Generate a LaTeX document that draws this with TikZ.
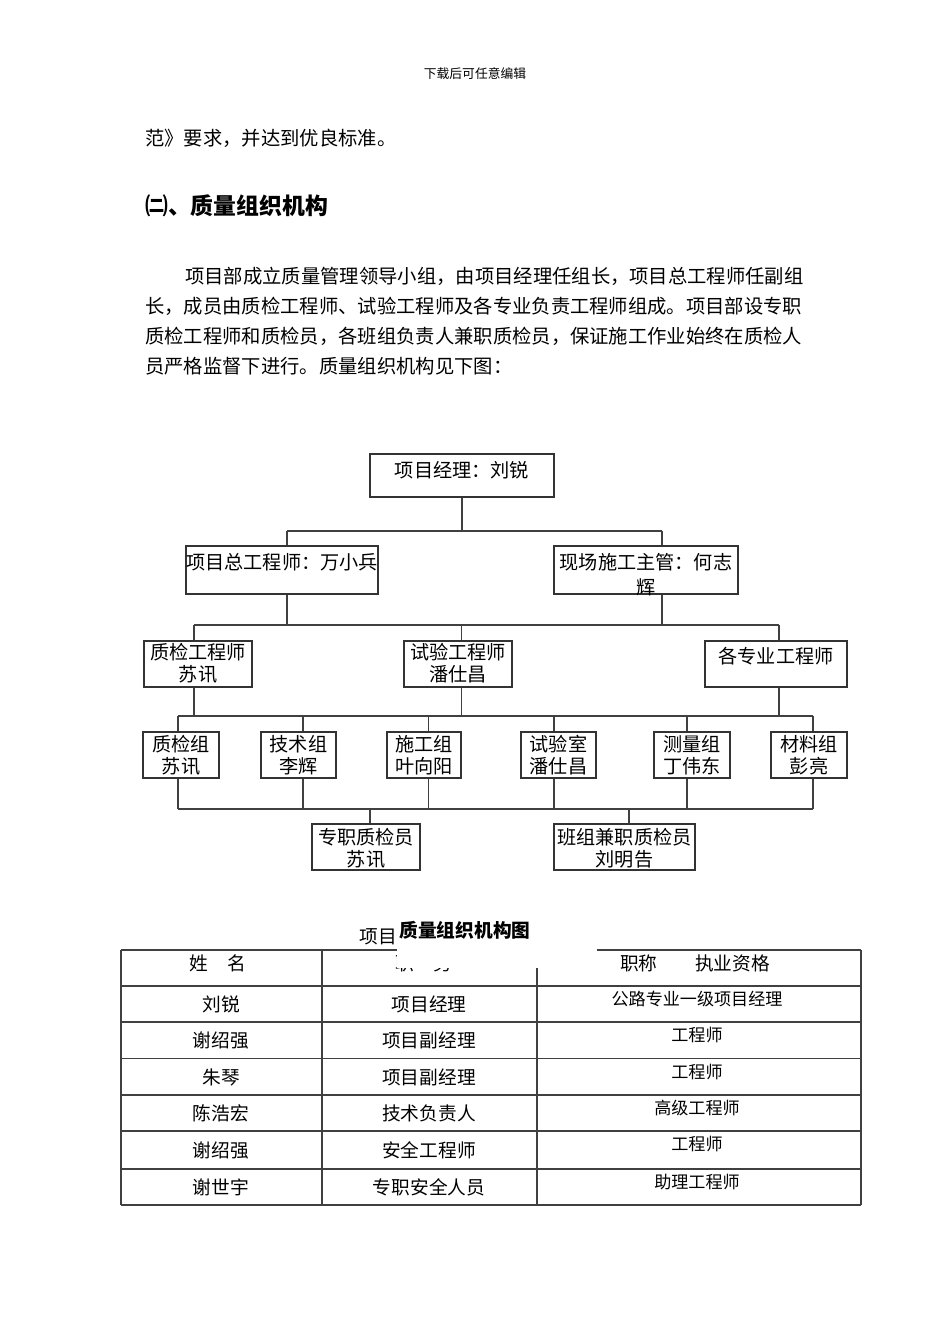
\documentclass[tikz,border=0pt]{standalone}
\usepackage{fontspec}
\setmainfont{Noto Sans CJK SC}
\usetikzlibrary{fit,positioning,backgrounds}

\begin{document}
\begin{tikzpicture}[
  x=0.6263pt, y=-0.6263pt,
  every node/.style={inner sep=0pt},
  orgbox/.style={draw=black!80, fill=white, line width=0.9pt, inner sep=0pt},
  boxtxt/.style={align=center, font=\fontsize{12pt}{13.8pt}\selectfont},
  link/.style={draw=black!75, line width=0.9pt},
  bodyline/.style={anchor=west, font=\fontsize{12.1pt}{14pt}\selectfont},
  cell/.style={font=\fontsize{11.7pt}{14pt}\selectfont},
  smallcell/.style={font=\fontsize{10.7pt}{13pt}\selectfont},
  tabrule/.style={draw=black!75, line width=0.9pt}
]
\useasboundingbox (0,0) rectangle (950,1344);

% page text
\node[font=\fontsize{8pt}{10pt}\selectfont] (hdr) at (475,74) {下载后可任意编辑};
\node[bodyline] (l0) at (145,138) {范》要求，并达到优良标准。};
\node[anchor=west, font=\fontsize{14.3pt}{17pt}\selectfont\bfseries] (sec) at (145,206) {㈡、质量组织机构};
\node[bodyline] (p1) at (185,276) {项目部成立质量管理领导小组，由项目经理任组长，项目总工程师任副组};
\node[bodyline] (p2) at (145,306) {长，成员由质检工程师、试验工程师及各专业负责工程师组成。项目部设专职};
\node[bodyline] (p3) at (145,336) {质检工程师和质检员，各班组负责人兼职质检员，保证施工作业始终在质检人};
\node[bodyline] (p4) at (145,366) {员严格监督下进行。质量组织机构见下图：};

% org chart boxes
\node[orgbox, fit={(370,454)(554,497)}] (pm) {};
\node[boxtxt] (pmt) at (462,470) {项目经理：刘锐};

\node[orgbox, fit={(186,546)(378,594)}] (zg) {};
\node[boxtxt] (zgt) at (282,562) {项目总工程师：万小兵};
\node[orgbox, fit={(554,546)(738,594)}] (xc) {};
\node[boxtxt, font=\fontsize{12pt}{15.7pt}\selectfont] (xct) at (646,574.5) {现场施工主管：何志\\辉};

\node[orgbox, fit={(144,641)(252,687)}] (zj) {};
\node[boxtxt] (zjt) at (198,663) {质检工程师\\苏讯};
\node[orgbox, fit={(404,641)(512,687)}] (sy) {};
\node[boxtxt] (syt) at (458,663) {试验工程师\\潘仕昌};
\node[orgbox, fit={(705,641)(847,687)}] (gz) {};
\node[boxtxt] (gzt) at (776,656) {各专业工程师};

\foreach \n/\xa/\xb/\txt in {
    g1/143/219/质检组\\苏讯,
    g2/261/336/技术组\\李辉,
    g3/387/461/施工组\\叶向阳,
    g4/521/596/试验室\\潘仕昌,
    g5/654/730/测量组\\丁伟东,
    g6/771/847/材料组\\彭亮} {
  \node[orgbox, fit={(\xa,732)(\xb,778)}] (\n) {};
  \node[boxtxt] (\n t) at (\n) {\txt};
}

\node[orgbox, fit={(312,824)(420,870)}] (zz) {};
\node[boxtxt] (zzt) at (366,848) {专职质检员\\苏讯};
\node[orgbox, fit={(554,824)(695,870)}] (bz) {};
\node[boxtxt] (bzt) at (624.5,848) {班组兼职质检员\\刘明告};

% connectors, kept behind the boxes
\begin{scope}[on background layer]
\fill[white] (0,0) rectangle (950,1344);
\coordinate (b1l) at (287,531);
\coordinate (b1r) at (662,531);
\draw[link] (pm.south) -- (pm.south |- b1l);
\draw[link] (b1l) -- (b1r);
\draw[link] (b1l) -- (b1l |- zg.north);
\draw[link] (b1r) -- (b1r |- xc.north);

\coordinate (b2l) at (194,625);
\coordinate (b2m) at (461.5,625);
\coordinate (b2r) at (779,625);
\draw[link] (b1l |- zg.south) -- (b1l |- b2l);
\draw[link] (b1r |- xc.south) -- (b1r |- b2l);
\draw[link] (b2l) -- (b2r);
\draw[link] (b2l) -- (b2l |- zj.north);
\draw[link] (b2m) -- (b2m |- sy.north);
\draw[link] (b2r) -- (b2r |- gz.north);

\coordinate (b3l) at (178,716);
\coordinate (b3r) at (813,716);
\draw[link] (b2l |- zj.south) -- (b2l |- b3l);
\draw[link] (b2m |- sy.south) -- (b2m |- b3l);
\draw[link] (b2r |- gz.south) -- (b2r |- b3l);
\draw[link] (b3l) -- (b3r);

\coordinate (b4l) at (178,809);
\coordinate (b4r) at (813,809);
\foreach \n/\xx in {g1/178, g2/303, g3/428.5, g4/554, g5/687, g6/813} {
  \coordinate (\n up) at (\xx,716);
  \coordinate (\n dn) at (\xx,809);
  \draw[link] (\n up) -- (\n up |- \n.north);
  \draw[link] (\n dn |- \n.south) -- (\n dn);
}
\draw[link] (b4l) -- (b4r);
\coordinate (zzup) at (370,809);
\coordinate (bzup) at (629,809);
\draw[link] (zzup) -- (zzup |- zz.north);
\draw[link] (bzup) -- (bzup |- bz.north);
\end{scope}

% table
\foreach \yy in {950,986,1022,1058.5,1095,1131,1169,1205}
  \draw[tabrule] (121,\yy) -- (861,\yy);
\foreach \xx in {121,322,537,861}
  \draw[tabrule] (\xx,950) -- (\xx,1205);

\node[cell] (h1) at (218,963) {姓　名};
\node[cell] (h2) at (424,963) {职　务};
\node[cell] (h3) at (695,963) {职称　　执业资格};

\foreach \nm/\job/\yy in {刘锐/项目经理/1004, 谢绍强/项目副经理/1040.5, 朱琴/项目副经理/1077,
    陈浩宏/技术负责人/1113, 谢绍强/安全工程师/1150, 谢世宇/专职安全人员/1187} {
  \node[cell] at (221,\yy) {\nm};
  \node[cell] at (429,\yy) {\job};
}
\foreach \tt/\yy in {公路专业一级项目经理/999, 工程师/1035, 工程师/1071.5,
    高级工程师/1107.5, 工程师/1143.5, 助理工程师/1182}
  \node[smallcell] at (697,\yy) {\tt};

% caption over the table head
\node[cell] (cap0) at (378,937) {项目};
\node[fill=white, fit={(397,914)(597,968)}] (capbg) {};
\node[font=\fontsize{11.7pt}{14pt}\selectfont\bfseries] (cap) at (465,930) {质量组织机构图};

\end{tikzpicture}
\end{document}
